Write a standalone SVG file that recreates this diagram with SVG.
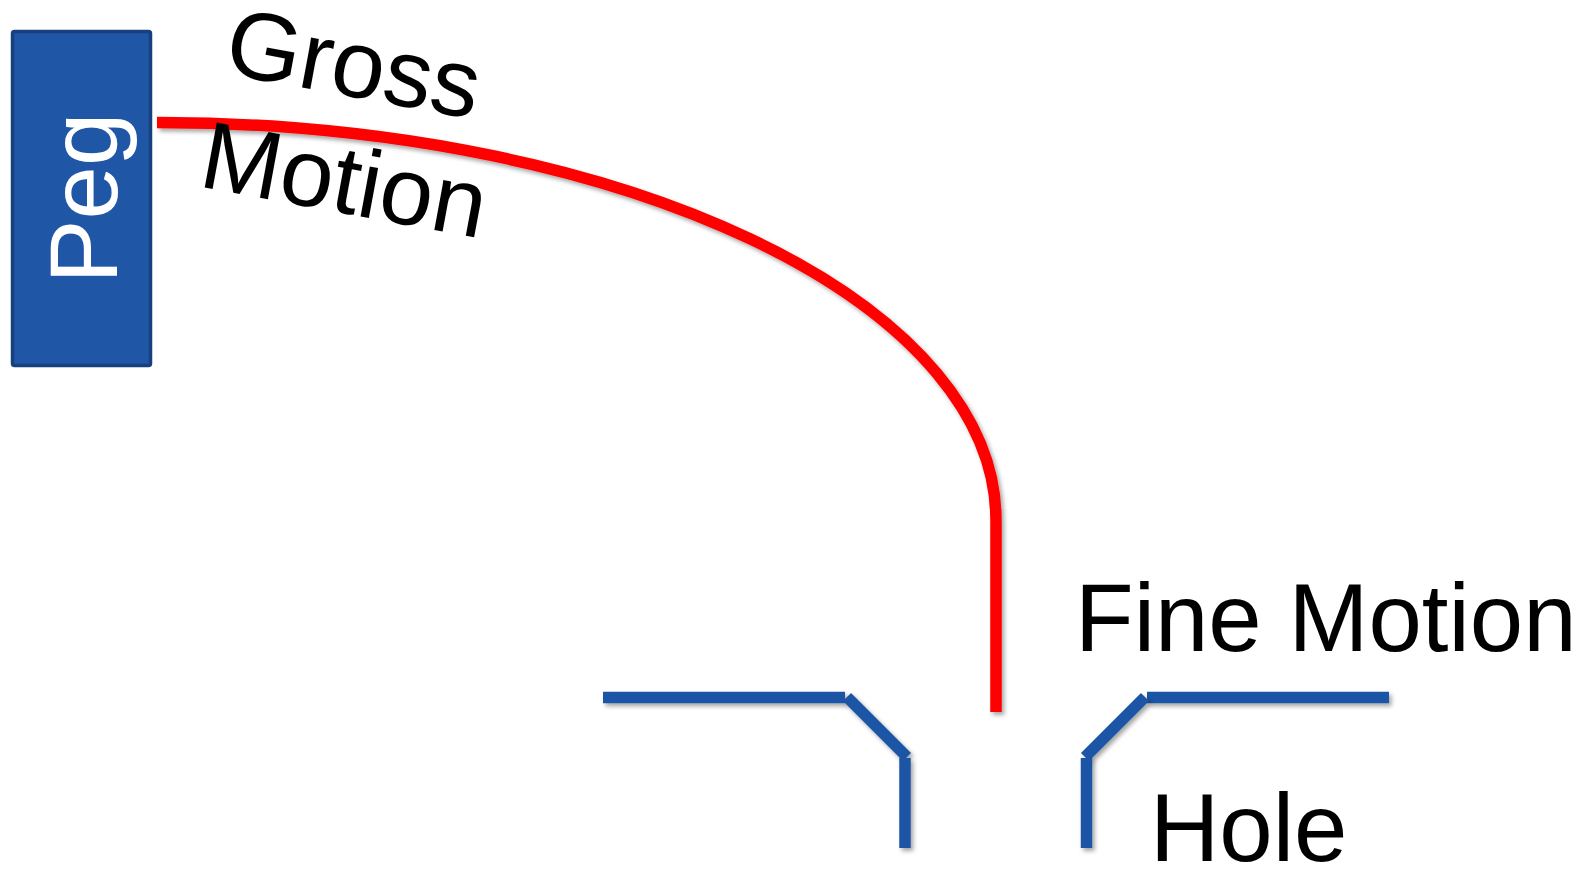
<svg xmlns="http://www.w3.org/2000/svg" width="1595" height="869" viewBox="0 0 1595 869">
  <defs>
    <filter id="shadow" filterUnits="userSpaceOnUse" x="0" y="0" width="1595" height="869">
      <feDropShadow dx="2.5" dy="3" stdDeviation="2" flood-color="#000" flood-opacity="0.35"/>
    </filter>
  </defs>
  <style>
    .label { font-family: "Liberation Sans", Arial, sans-serif; font-size: 96px; fill: #000; }
    .peg-box { fill: #1F56A6; stroke: #17417E; stroke-width: 3.5; }
    .peg-text { font-family: "Liberation Sans", Arial, sans-serif; font-size: 96px; fill: #fff; }
    .wall { fill: none; stroke: #1F55A5; stroke-width: 11.5; stroke-linecap: butt; filter: url(#shadow); }
    .path { fill: none; stroke: #FF0000; stroke-width: 11.5; stroke-linecap: butt; filter: url(#shadow); }
  </style>

  <!-- Peg block -->
  <g id="peg">
    <rect class="peg-box" x="12.5" y="31.5" width="138" height="334" rx="2"/>
    <text class="peg-text" text-anchor="middle" transform="translate(117,198) rotate(-90)">Peg</text>
  </g>

  <!-- Hole with chamfered entry -->
  <g id="hole">
    <line class="wall" x1="603" y1="697.5" x2="845" y2="697.5"/>
    <line class="wall" x1="847" y1="697" x2="907" y2="757"/>
    <line class="wall" x1="905" y1="758" x2="905" y2="848"/>
    <line class="wall" x1="1147" y1="697.5" x2="1389" y2="697.5"/>
    <line class="wall" x1="1145" y1="697" x2="1085" y2="757"/>
    <line class="wall" x1="1086.5" y1="758" x2="1086.5" y2="848"/>
  </g>

  <!-- Motion path from peg into the hole -->
  <g id="connectors">
    <path class="path" d="M157,122.5 A839,397.5 0 0 1 996,520 L996,712"/>
  </g>

  <!-- Labels -->
  <g id="gross-motion-label" transform="translate(197,186) rotate(10.5)">
    <text class="label" x="4" y="-116">Gross</text>
    <text class="label" x="0" y="0">Motion</text>
  </g>
  <g id="fine-motion-label">
    <text class="label" x="1075" y="651">Fine Motion</text>
  </g>
  <g id="hole-label">
    <text class="label" x="1150" y="861">Hole</text>
  </g>
</svg>
